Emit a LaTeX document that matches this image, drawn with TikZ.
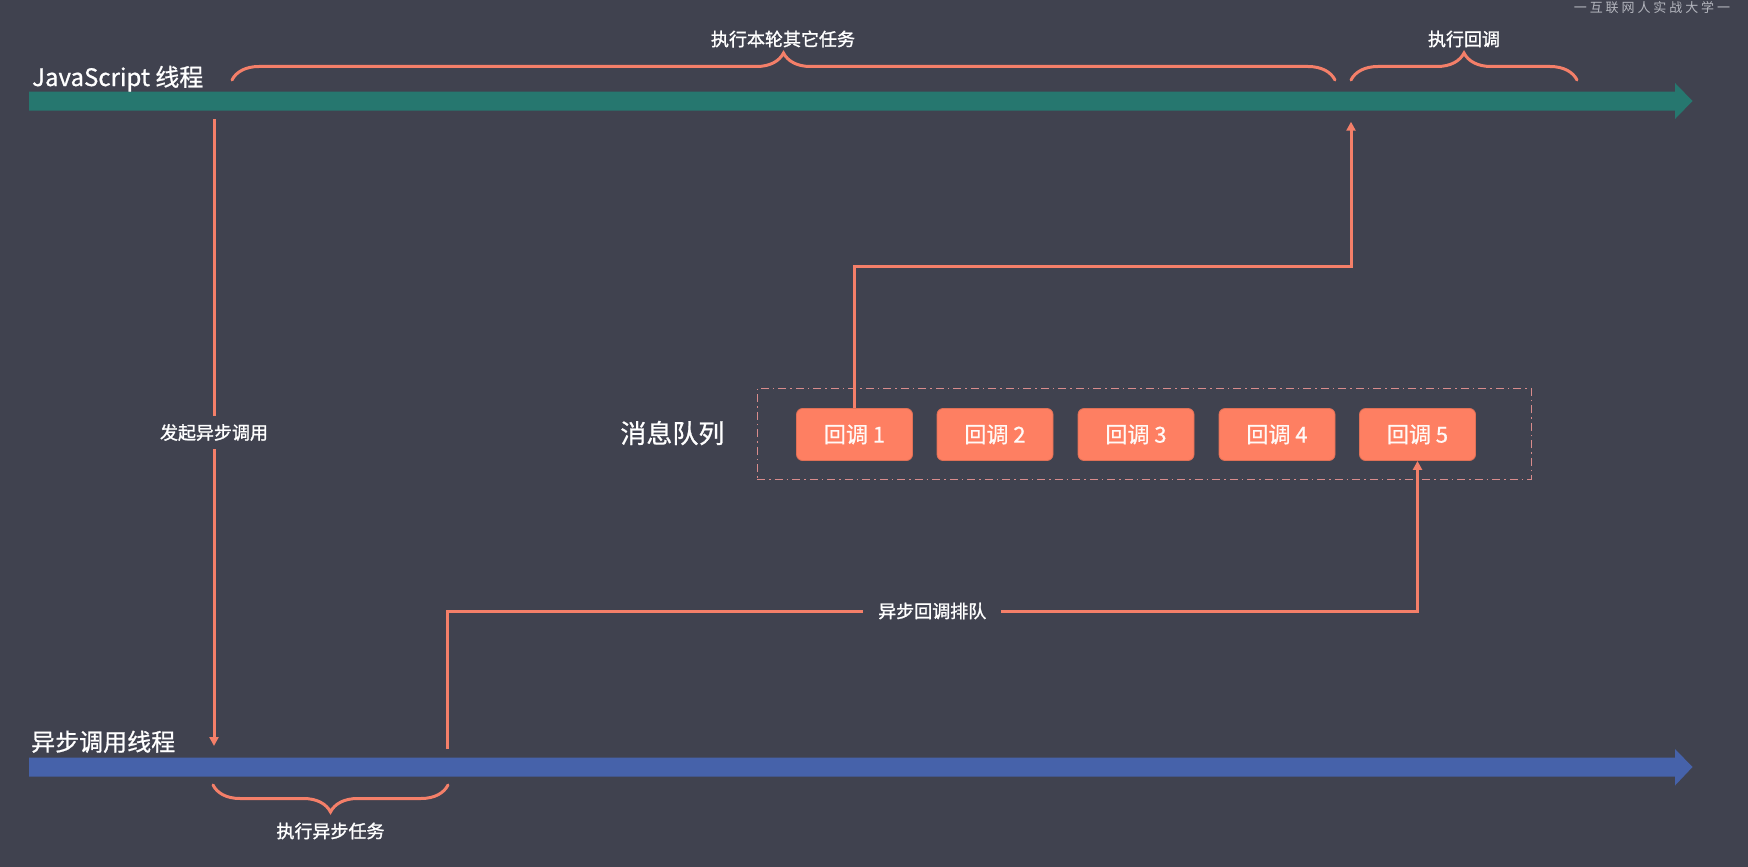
\documentclass[tikz,border=0pt]{standalone}
\usepackage{fontspec}
\setmainfont{Noto Sans CJK SC}
\newfontfamily\medfont[FakeBold=1.4]{Noto Sans CJK SC}
\newfontfamily\semifont[FakeBold=0.8]{Noto Sans CJK SC}
\usetikzlibrary{arrows.meta,decorations.pathreplacing}
\definecolor{bgc}{HTML}{40424F}
\definecolor{jsc}{HTML}{26776F}
\definecolor{asc}{HTML}{4662AA}
\definecolor{linec}{HTML}{F47F69}
\definecolor{boxc}{HTML}{FE7F62}
\definecolor{qc}{HTML}{D98C8C}
\definecolor{wmc}{HTML}{B4B6BE}
\begin{document}
\begin{tikzpicture}[x=1pt,y=-1pt,
  conn/.style={draw=linec, line width=3pt, -{Triangle[length=9pt,width=9pt]}},
  bracestyle/.style={draw=linec, line width=3pt, line cap=round, decorate, decoration={brace, amplitude=27pt}},
  cbbox/.style={rectangle, rounded corners=6pt, fill=boxc, draw=boxc!88!black, line width=0.8pt,
    minimum width=116pt, minimum height=52pt, inner sep=0pt, text=white!95!boxc,
    font=\semifont\fontsize{22pt}{26pt}\selectfont},
  lbl/.style={font=\medfont\fontsize{18pt}{22pt}\selectfont, text=white},
  biglbl/.style={font=\semifont\fontsize{24pt}{28pt}\selectfont, text=white, inner sep=0pt},
  qbox/.style={draw=qc, line width=1.2pt, dash pattern=on 8pt off 4pt on 1.5pt off 4pt,
    minimum width=774pt, minimum height=91pt, inner sep=0pt}
]
\useasboundingbox (0,0) rectangle (1748,867);
\fill[bgc] (0,0) rectangle (1748,867);

% watermark
\node[anchor=base, text=wmc, inner sep=0pt, font=\fontsize{13pt}{15pt}\selectfont] (wm) at (1652,12.5) {一 互 联 网 人 实 战 大 学 一};

% thread bars
\fill[jsc] (29,91.5) -- (1675,91.5) -- (1675,83) -- (1692.5,101) -- (1675,119) -- (1675,110.5) -- (29,110.5) -- cycle;
\fill[asc] (29,757.5) -- (1675,757.5) -- (1675,749) -- (1692.5,767) -- (1675,785.5) -- (1675,776.5) -- (29,776.5) -- cycle;

\node[biglbl, anchor=base west] (jslbl) at (32,86) {JavaScript 线程};
\node[biglbl, anchor=base west] (aslbl) at (31,750.8) {异步调用线程};

% braces
\coordinate (b1a) at (232,80);
\coordinate (b1b) at (1335,80);
\draw[bracestyle] (b1a) -- (b1b);
\node[lbl] (t1) at (783,39) {执行本轮其它任务};
\coordinate (b2a) at (1351,80);
\coordinate (b2b) at (1577,80);
\draw[bracestyle] (b2a) -- (b2b);
\node[lbl] (t2) at (1464,39) {执行回调};
\coordinate (b3a) at (213,785);
\coordinate (b3b) at (448,785);
\draw[bracestyle, decoration={brace, amplitude=27pt, mirror}] (b3a) -- (b3b);
\node[lbl] (t3) at (330.5,831) {执行异步任务};

% message queue
\node[qbox] (queue) at (1144.2,433.8) {};
\node[font=\semifont\fontsize{26pt}{30pt}\selectfont, text=white, inner sep=0pt, anchor=base] (qlbl) at (672.4,443) {消息队列};
\node[cbbox] (cb1) at (854.5,434.5) {回调 1};
\node[cbbox] (cb2) at (995,434.5) {回调 2};
\node[cbbox] (cb3) at (1136,434.5) {回调 3};
\node[cbbox] (cb4) at (1277,434.5) {回调 4};
\node[cbbox] (cb5) at (1417.5,434.5) {回调 5};

% connectors
\coordinate (jsCall) at (214,119);
\coordinate (asCall) at (214,746);
\draw[conn] (jsCall) -- node[lbl, fill=bgc, inner ysep=8pt, inner xsep=2pt] (lcall) {发起异步调用} (asCall);

\coordinate (asDone) at (447,749);
\coordinate (qTurn) at (447,611);
\draw[conn] (asDone) -- (qTurn) -| node[pos=0.25, lbl, fill=bgc, inner xsep=15pt, inner ysep=4pt] (lq) {异步回调排队} (cb5.south);

\coordinate (rTurn) at (1351,266);
\coordinate (jsBack) at (1351,121.7);
\draw[conn] (cb1.north) |- (rTurn) -- (jsBack);
\end{tikzpicture}
\end{document}
